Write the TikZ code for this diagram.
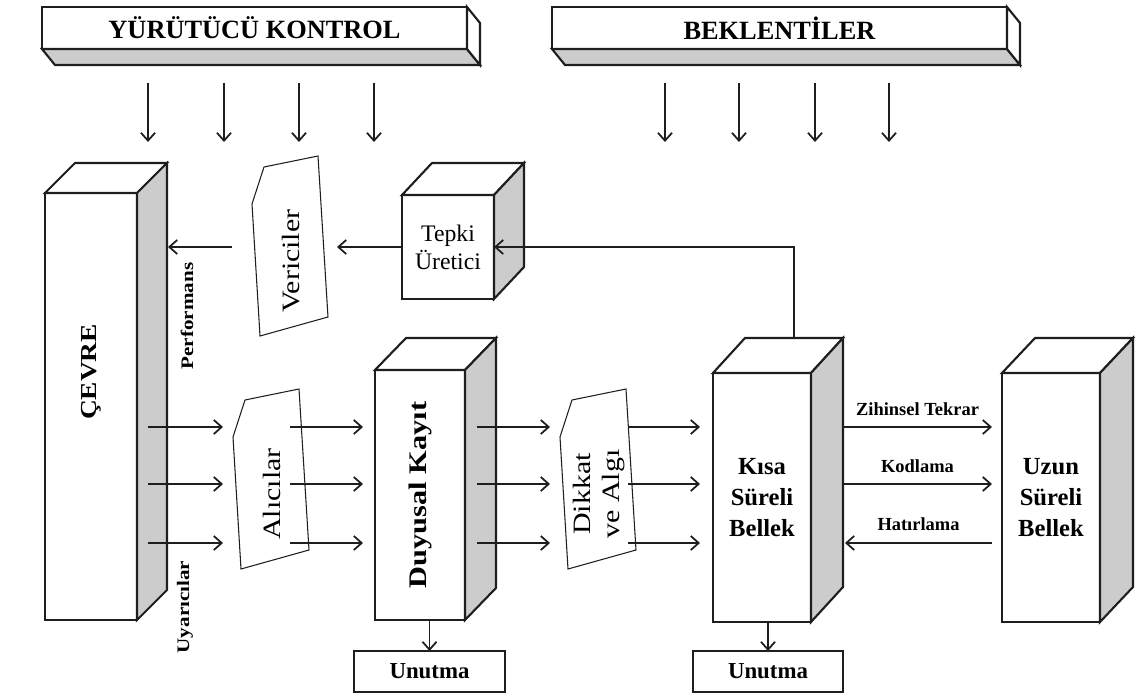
\documentclass[tikz,border=0pt]{standalone}
\usepackage{fontspec}
\setmainfont{Liberation Serif}
\newfontfamily\widefont[FakeStretch=1.2]{Liberation Serif}
\usetikzlibrary{arrows.meta,calc}

\definecolor{inkc}{HTML}{1E1E1E}
\definecolor{sidegray}{HTML}{CCCCCC}
\def\pxu{0.02cm}

\tikzset{
  boxline/.style={draw=inkc, line width=1.2pt, line join=miter},
  frontface/.style n args={2}{boxline, fill=white, minimum width=#1*\pxu,
    minimum height=#2*\pxu, inner sep=0pt, outer sep=0pt, align=center},
  cardline/.style={draw=inkc, line width=0.6pt},
  rottext/.style={inner sep=0pt, outer sep=0pt},
  arr/.style={draw=inkc, line width=1pt, -{Straight Barb[length=4.5pt,width=8pt]}},
  lbl/.style={inner sep=0pt, font=\bfseries\fontsize{10.5}{12}\selectfont},
  bartext/.style={font=\bfseries\fontsize{15}{18}\selectfont},
  memtext/.style={font=\bfseries\fontsize{14}{17.6}\selectfont},
}

% box extruded up and to the right: top face white, side face grey
\newcommand\cuboidback[3]{%
  \draw[boxline, fill=white] (#1.north west) -- ++(#2,#3) -- ($(#1.north east)+(#2,#3)$) -- (#1.north east) -- cycle;
  \draw[boxline, fill=sidegray] (#1.north east) -- ($(#1.north east)+(#2,#3)$) -- ($(#1.south east)+(#2,#3)$) -- (#1.south east) -- cycle;
}
% bar extruded down and to the right: bottom face grey, end face white
\newcommand\barsides[3]{%
  \draw[boxline, fill=sidegray] (#1.south west) -- ++(#2,#3) -- ($(#1.south east)+(#2,#3)$) -- (#1.south east) -- cycle;
  \draw[boxline, fill=white] (#1.north east) -- ++(#2,#3) -- ($(#1.south east)+(#2,#3)$) -- (#1.south east) -- cycle;
}
% card outline with a clipped upper-left corner around a text node
\newcommand\cardframe[1]{%
  \draw[cardline] ($(#1.center)+(-27,-94)$) -- ($(#1.center)+(27,-105)$) -- ($(#1.center)+(37,56)$)
    -- ($(#1.center)+(-31,75)$) -- ($(#1.center)+(-39,-57)$) -- cycle;
}

\begin{document}
\begin{tikzpicture}[x=0.02cm, y=-0.02cm]
\fill[white] (0,0) rectangle (1137,696);
\useasboundingbox (0,0) rectangle (1137,696);

% top bars
\node[frontface={425}{42}, bartext] (yurutucu) at (254.5,28) {YÜRÜTÜCÜ KONTROL};
\barsides{yurutucu}{13}{16}
\node[frontface={455}{42}, bartext] (beklenti) at (779.5,28) {BEKLENTİLER};
\barsides{beklenti}{13}{16}

\foreach \xx [count=\i] in {148,224,299,374,665,739,815,889} {
  \coordinate (down\i) at (\xx,83);
  \draw[arr] (down\i) -- ++(0,59);
}

% environment
\node[frontface={92}{427}] (cevre) at (91,406.5) {};
\cuboidback{cevre}{30}{-30}
\node[rottext] (cevre-t) at (91,372) {\rotatebox{90}{\widefont\bfseries\fontsize{13}{15}\selectfont ÇEVRE}};
\node[rottext] (perf) at (187,316) {\rotatebox{90}{\widefont\bfseries\fontsize{10}{12}\selectfont Performans}};
\node[rottext] (uyar) at (185,607) {\rotatebox{90}{\widefont\bfseries\fontsize{10}{12}\selectfont Uyarıcılar}};

% response generator
\node[frontface={92}{104}, font=\fontsize{13.5}{16}\selectfont] (tepki) at (448,247) {Tepki\\Üretici};
\cuboidback{tepki}{30}{-32}

% sensory register
\node[frontface={90}{250}] (duyusal) at (420,495)
  {\rotatebox{90}{\widefont\bfseries\fontsize{14.4}{17}\selectfont Duyusal Kayıt}};
\cuboidback{duyusal}{31}{-32}

% short-term memory
\node[frontface={98}{249}, memtext] (kisa) at (762,497.5) {Kısa\\Süreli\\Bellek};
\cuboidback{kisa}{32}{-35}

% long-term memory
\node[frontface={98}{249}, memtext] (uzun) at (1051,497.5) {Uzun\\Süreli\\Bellek};
\cuboidback{uzun}{33}{-35}

% cards
\node[rottext] (vericiler) at (291,261) {\rotatebox{90}{\widefont\fontsize{14.2}{16}\selectfont Vericiler}};
\cardframe{vericiler}
\node[rottext] (alicilar) at (272,494) {\rotatebox{90}{\widefont\fontsize{14.2}{16}\selectfont Alıcılar}};
\cardframe{alicilar}
\node[rottext] (dikkat) at (599,494) {\rotatebox{90}{\widefont\fontsize{14.2}{16.4}\selectfont
  \begin{tabular}{@{}c@{}}Dikkat\\ve Algı\end{tabular}}};
\cardframe{dikkat}

% forgetting
\node[frontface={151}{41}, font=\bfseries\fontsize{13}{15}\selectfont] (unutma1) at (429.5,671.5) {Unutma};
\node[frontface={150}{41}, font=\bfseries\fontsize{13}{15}\selectfont] (unutma2) at (768,671.5) {Unutma};
\draw[arr] (unutma1.north |- duyusal.south) -- (unutma1.north);
\draw[arr] (unutma2.north |- kisa.south) -- (unutma2.north);

% stimulus flow
\foreach \yy in {427,484,543} {
  \draw[arr] ($(cevre.east |- 0,\yy)+(11,0)$) -- ($(alicilar.center |- 0,\yy)+(-49,0)$);
  \draw[arr] ($(alicilar.center |- 0,\yy)+(18,0)$) -- ($(duyusal.west |- 0,\yy)+(-12,0)$);
  \draw[arr] ($(duyusal.east |- 0,\yy)+(12,0)$) -- ($(dikkat.center |- 0,\yy)+(-49,0)$);
  \draw[arr] ($(dikkat.center |- 0,\yy)+(29,0)$) -- ($(kisa.west |- 0,\yy)+(-13,0)$);
}

% response path
\draw[arr] ($(kisa.north)+(32,-35)$) |- (tepki.east);
\draw[arr] (tepki.west) -- ($(vericiler.center |- tepki.west)+(46,0)$);
\draw[arr] ($(vericiler.center |- tepki.west)+(-59,0)$) -- ($(cevre.east |- tepki.west)+(31,0)$);

% short-term / long-term exchange
\draw[arr] ($(kisa.east)+(32,-70.5)$) -- ($(uzun.west)+(-10,-70.5)$)
  node[lbl, midway, yshift=0.36cm] (tekrar) {Zihinsel Tekrar};
\draw[arr] ($(kisa.east)+(32,-13.5)$) -- ($(uzun.west)+(-10,-13.5)$)
  node[lbl, midway, yshift=0.36cm] (kodlama) {Kodlama};
\draw[arr] ($(uzun.west)+(-10,45.5)$) -- ($(kisa.east)+(34,45.5)$)
  node[lbl, midway, yshift=0.38cm] (hatirlama) {Hatırlama};
\end{tikzpicture}
\end{document}
